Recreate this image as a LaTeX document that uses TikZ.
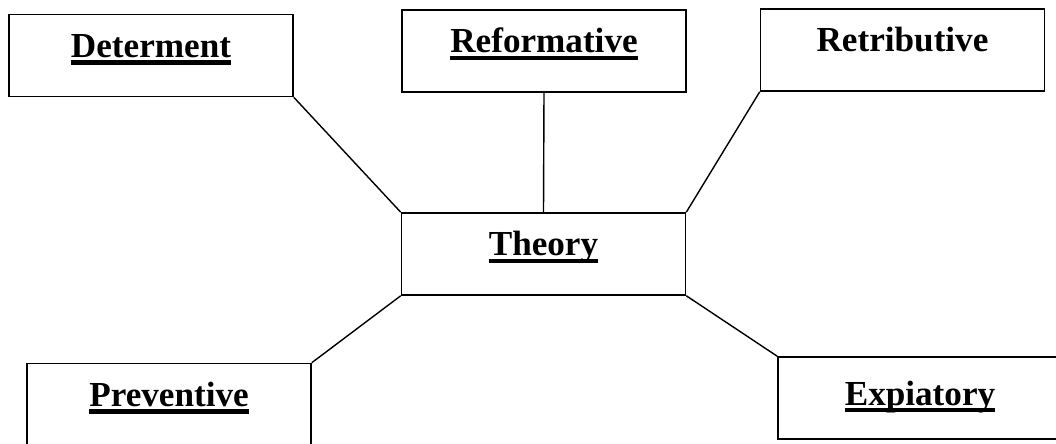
\documentclass[tikz,border=0pt]{standalone}
\usepackage{fontspec}
\setmainfont{Liberation Serif}
\newcommand{\ulword}[1]{\leavevmode\vtop{\setbox0\hbox{#1}\dp0=0pt \box0 \kern2pt \hrule height 3pt}}
\begin{document}
\begin{tikzpicture}[
    font=\fontsize{25}{30}\selectfont\bfseries,
    caja/.style={
        draw,
        line width=1.1pt,
        minimum width=7.1cm,
        inner sep=0pt,
        text height=1.075cm,
        text depth=0.975cm,
        align=center
    },
    enlace/.style={line width=1pt}
]
    \clip (0,0) rectangle (26.4,11.075);

    \node[caja] (determent) at (3.775,9.6875) {\ulword{Determent}};
    \node[caja] (reformative) at (13.6,9.8) {\ulword{Reformative}};
    \node[caja] (retributive) at (22.5625,9.825) {Retributive};

    \node[caja] (theory) at (13.5875,4.725) {\ulword{Theory}};

    \node[caja] (preventive) at (4.225,0.9625) {\ulword{Preventive}};
    \node[caja,text height=1.2cm,text depth=0.85cm] (expiatory) at (23.0,1.125)
        {\ulword{Expiatory}};

    \draw[enlace] (determent.south east) -- (theory.north west);
    \draw[enlace] (reformative.south) -- (theory.north);
    \draw[enlace] (retributive.south west) -- (theory.north east);
    \draw[enlace] (theory.south west) -- (preventive.north east);
    \draw[enlace] (theory.south east) -- (expiatory.north west);
\end{tikzpicture}
\end{document}
